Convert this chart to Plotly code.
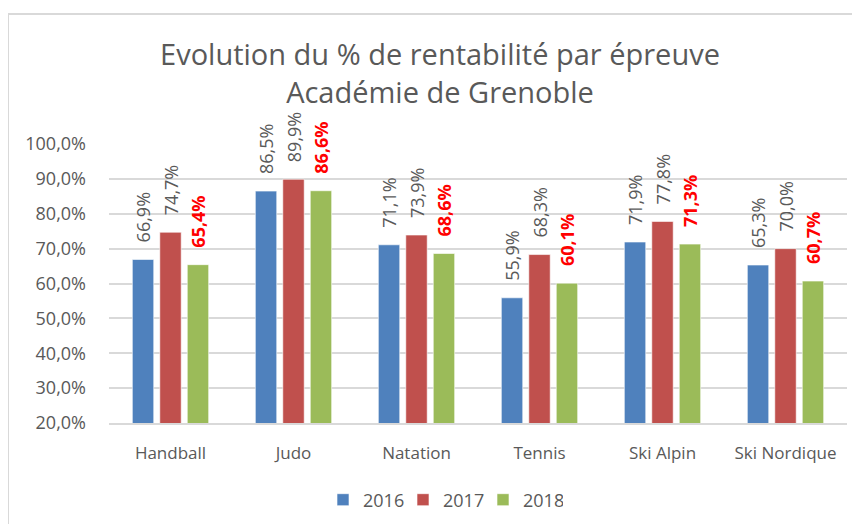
import plotly.graph_objects as go

categories = ["Handball", "Judo", "Natation", "Tennis", "Ski Alpin", "Ski Nordique"]
years = ["2016", "2017", "2018"]
v2016 = [0.669, 0.865, 0.711, 0.559, 0.719, 0.653]
v2017 = [0.747, 0.899, 0.739, 0.683, 0.778, 0.700]
v2018 = [0.654, 0.866, 0.686, 0.601, 0.713, 0.607]
colors = ["#4F81BD", "#C0504D", "#9BBB59"]

FONT = "Open Sans, Lato, sans-serif"
GRAY = "#595959"

# page body has an 8px margin, so the figure is 852x516 placed at (8, 8)
W, H = 852, 516
L, R, T, B = 101, 13, 136, 101
PW, PH = W - L - R, H - T - B

fig = go.Figure()
for name, vals, col in zip(years, [v2016, v2017, v2018], colors):
    red = name == "2018"
    fig.add_trace(go.Bar(
        x=categories, y=vals, name=name,
        marker=dict(color=col, line=dict(color="rgba(255,255,255,0.6)", width=1)),
        texttemplate="\u00a0\u00a0\u00a0%{y:.1%}",
        textposition="outside", textangle=-90, cliponaxis=False,
        constraintext="none",
        textfont=dict(family=FONT, size=18, color="#FF0000" if red else GRAY,
                      weight="bold" if red else "normal"),
    ))

fig.update_layout(
    width=W, height=H,
    separators=", ",
    paper_bgcolor="white", plot_bgcolor="white",
    font=dict(family=FONT, color=GRAY, size=17),
    margin=dict(l=L, r=R, t=T, b=B, autoexpand=False),
    barmode="group", bargap=0.33, bargroupgap=0.22,
    title=dict(text="Evolution du % de rentabilité par épreuve<br>Académie de Grenoble",
               x=432 / W, xanchor="center", y=1 - 57 / H, yanchor="top",
               font=dict(family=FONT, size=29, color=GRAY)),
    legend=dict(orientation="h", xref="container", yref="container",
                x=435 / W, xanchor="center", y=1 - 492 / H, yanchor="middle",
                itemwidth=30, entrywidth=35,
                font=dict(family=FONT, size=18, color=GRAY), traceorder="normal"),
    shapes=[dict(type="rect", xref="paper", yref="paper",
                 x0=(0 - L) / PW, x1=(870 - L) / PW,
                 y0=(H - B - 540) / PH, y1=(H - B - 6) / PH,
                 line=dict(color="#D9D9D9", width=2), fillcolor="rgba(0,0,0,0)", layer="below")],
)
fig.update_yaxes(range=[0.2, 1.0], dtick=0.1, tickformat=".1%",
                 showgrid=True, gridcolor="#D9D9D9", gridwidth=1.5,
                 zeroline=False, ticks="", ticklabelstandoff=22,
                 tickfont=dict(family=FONT, size=18, color=GRAY))
fig.update_xaxes(showline=True, linecolor="#D9D9D9", linewidth=1.5, ticks="",
                 ticklabelstandoff=14,
                 tickfont=dict(family=FONT, size=17, color=GRAY))

fig.write_html("out.html")
